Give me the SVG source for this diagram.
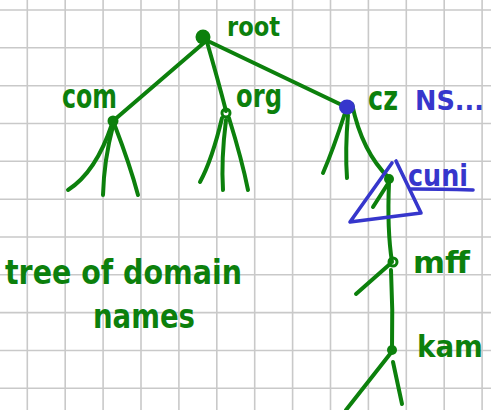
<svg xmlns="http://www.w3.org/2000/svg" width="491" height="410" viewBox="0 0 491 410">
<style>
.grid{stroke:#c9c9c9;stroke-width:1.6;fill:none}
.g{stroke:#0c800c;stroke-width:4;fill:none;stroke-linecap:round;stroke-linejoin:round}
.b{stroke:#3636cc;stroke-width:3.6;fill:none;stroke-linecap:round;stroke-linejoin:round}
.tg{fill:#0c800c;font-family:"DejaVu Sans",sans-serif;font-weight:bold}
.tb{fill:#3636cc;font-family:"DejaVu Sans",sans-serif;font-weight:bold}
</style>
<rect width="491" height="410" fill="#ffffff"/>
<g id="grid">
<path class="grid" d="M27.3,0V410M65.2,0V410M103.1,0V410M141,0V410M178.9,0V410M216.8,0V410M254.7,0V410M292.6,0V410M330.5,0V410M368.4,0V410M406.3,0V410M444.2,0V410M482.1,0V410"/>
<path class="grid" d="M0,10H491M0,47.8H491M0,85.7H491M0,123.5H491M0,161.3H491M0,199.2H491M0,237H491M0,274.8H491M0,312.6H491M0,350.5H491M0,388.3H491"/>
</g>
<g id="connectors">
<path class="g" d="M206,41 L113,121"/>
<path class="g" d="M207,42 Q218,80 226,111"/>
<path class="g" d="M210,42 L346,107"/>
<path class="g" d="M112,124 Q96,172 68,190"/>
<path class="g" d="M113,126 Q104,160 103,195"/>
<path class="g" d="M115,126 Q130,165 138,195"/>
<path class="g" d="M222,118 Q212,160 200,182"/>
<path class="g" d="M226,120 Q221,160 223,190"/>
<path class="g" d="M229,118 Q242,160 248,190"/>
<path class="g" d="M345,113 Q333,150 323,173"/>
<path class="g" d="M348,115 Q345,150 347,178"/>
<path class="g" d="M352,104 Q362,152 389,178"/>
<path class="g" d="M389,182 L373,207"/>
<path class="g" d="M389,183 Q387,230 392,262"/>
<path class="g" d="M390,264 L356,294"/>
<path class="g" d="M391,270 Q393,310 392,350"/>
<path class="g" d="M390,354 L346,410"/>
<path class="g" d="M393,362 L402,404"/>
</g>
<g id="root">
<circle cx="203" cy="37" r="7.5" fill="#0c800c"/>
<text class="tg" x="227" y="36" font-size="26" textLength="53" lengthAdjust="spacingAndGlyphs">root</text>
</g>
<g id="com">
<circle cx="113" cy="121" r="5.5" fill="#0c800c"/>
<text class="tg" x="62" y="108" font-size="33" textLength="55" lengthAdjust="spacingAndGlyphs">com</text>
</g>
<g id="org">
<circle cx="226" cy="113" r="4" fill="none" stroke="#0c800c" stroke-width="3"/>
<text class="tg" x="236" y="107" font-size="32" textLength="46" lengthAdjust="spacingAndGlyphs">org</text>
</g>
<g id="cz">
<ellipse cx="347" cy="107" rx="8" ry="7.5" fill="#3636cc"/>
<text class="tg" x="368" y="110" font-size="34" textLength="30" lengthAdjust="spacingAndGlyphs">cz</text>
<text class="tb" x="415" y="110" font-size="27" textLength="69" lengthAdjust="spacingAndGlyphs">NS...</text>
</g>
<g id="cuni">
<path class="b" d="M392,163 L350,222 L421,213 L396,161"/>
<circle cx="389" cy="179" r="5" fill="#0c800c"/>
<text class="tb" x="408" y="186" font-size="30" textLength="60" lengthAdjust="spacingAndGlyphs">cuni</text>
<path class="b" d="M411,189 Q440,189 473,190"/>
</g>
<g id="mff">
<circle cx="393" cy="262" r="4" fill="none" stroke="#0c800c" stroke-width="3"/>
<text class="tg" x="413" y="273" font-size="30" textLength="57" lengthAdjust="spacingAndGlyphs">mff</text>
</g>
<g id="kam">
<circle cx="392" cy="350" r="5" fill="#0c800c"/>
<text class="tg" x="417" y="357" font-size="31" textLength="66" lengthAdjust="spacingAndGlyphs">kam</text>
</g>
<g id="caption">
<text class="tg" x="5" y="284" font-size="34" textLength="237" lengthAdjust="spacingAndGlyphs">tree of domain</text>
<text class="tg" x="93" y="328" font-size="34" textLength="102" lengthAdjust="spacingAndGlyphs">names</text>
</g>
</svg>
